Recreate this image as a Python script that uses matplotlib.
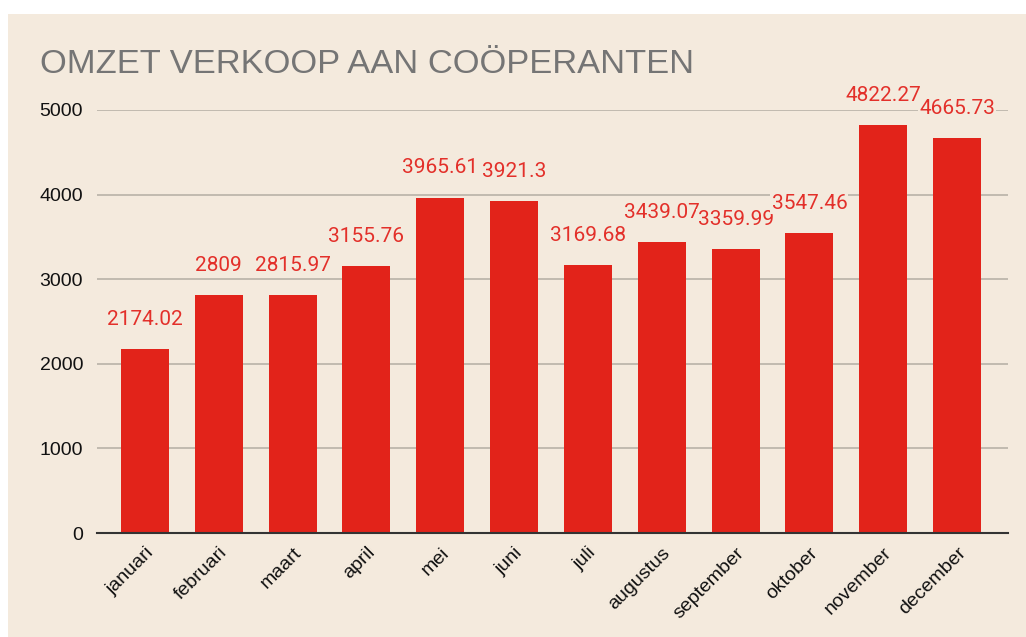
import matplotlib
matplotlib.use("Agg")
import matplotlib.pyplot as plt
from matplotlib.patches import Rectangle

months = ["januari", "februari", "maart", "april", "mei", "juni", "juli",
          "augustus", "september", "oktober", "november", "december"]
values = [2174.02, 2809, 2815.97, 3155.76, 3965.61, 3921.3, 3169.68,
          3439.07, 3359.99, 3547.46, 4822.27, 4665.73]
value_labels = ["2174.02", "2809", "2815.97", "3155.76", "3965.61", "3921.3",
                "3169.68", "3439.07", "3359.99", "3547.46", "4822.27", "4665.73"]
yticks = [0, 1000, 2000, 3000, 4000, 5000]
title = "OMZET VERKOOP AAN COÖPERANTEN"

W, H = 1026, 637
BG = "#f4eadd"
RED = "#e2231a"

fig = plt.figure(figsize=(W / 100, H / 100), dpi=100)
fig.patch.set_facecolor("white")
fig.patches.append(Rectangle((8 / W, 0), 1 - 8 / W, (H - 14) / H,
                             transform=fig.transFigure, facecolor=BG,
                             edgecolor="none", zorder=-10))

left, right, top, bottom = 97, 1008, 110, 533
ax = fig.add_axes([left / W, (H - bottom) / H, (right - left) / W, (bottom - top) / H])
ax.set_facecolor("none")

x = list(range(len(months)))
ax.bar(x, values, width=0.65, color=RED, zorder=3)

for xi, v, lab in zip(x, values, value_labels):
    ax.annotate(lab, (xi, v), xytext=(0, 17.3), textcoords="offset points",
                ha="center", va="baseline", fontsize=15, color="#e3302a",
                family=["Roboto", "DejaVu Sans"], zorder=5,
                bbox=dict(boxstyle="square,pad=0.05", facecolor=BG, edgecolor="none"))

ax.set_xlim(-0.65, 11.69)
ax.set_ylim(0, 5000)
ax.set_yticks(yticks)
ax.set_yticklabels([str(t) for t in yticks], fontsize=14, family="Liberation Sans", color="#111111")
ax.set_xticks(x)
ax.set_xticklabels(months, rotation=45, ha="right", va="top", rotation_mode="anchor",
                   fontsize=14, family="Liberation Sans", color="#111111")
ax.tick_params(axis="both", length=0)
ax.tick_params(axis="y", pad=10)
ax.tick_params(axis="x", pad=8)

for t in yticks[1:]:
    ax.axhline(t, color="#bdb6ac", linewidth=1.3, zorder=1)

for s in ["top", "right", "left"]:
    ax.spines[s].set_visible(False)
ax.spines["bottom"].set_color("#333333")
ax.spines["bottom"].set_linewidth(1.5)
ax.spines["bottom"].set_zorder(4)

fig.text(40 / W, 1 - 73 / H, title, fontsize=24.8, color="#757575",
         family="Liberation Sans", ha="left", va="baseline")

fig.savefig("out.png", dpi=100, facecolor=fig.get_facecolor())
